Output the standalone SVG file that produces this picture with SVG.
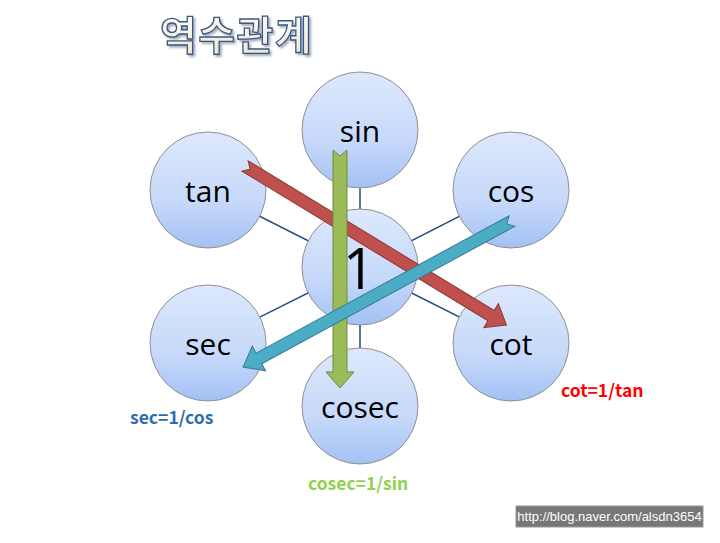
<svg xmlns="http://www.w3.org/2000/svg" width="720" height="543" viewBox="0 0 720 543">
<defs>
<linearGradient id="cg" x1="0" y1="0" x2="0" y2="1">
<stop offset="0" stop-color="#dde8fb"/>
<stop offset="0.6" stop-color="#c6d9fa"/>
<stop offset="1" stop-color="#a3c1f5"/>
</linearGradient>
<linearGradient id="tg" x1="0" y1="0" x2="0" y2="1">
<stop offset="0" stop-color="#ffffff"/>
<stop offset="1" stop-color="#e8e6c8"/>
</linearGradient>
<filter id="sh" x="-10%" y="-10%" width="130%" height="140%">
<feGaussianBlur in="SourceAlpha" stdDeviation="1.2"/>
<feOffset dx="1.5" dy="2" result="o"/>
<feFlood flood-color="#5a6f8f" flood-opacity="0.55"/>
<feComposite in2="o" operator="in"/>
<feMerge><feMergeNode/><feMergeNode in="SourceGraphic"/></feMerge>
</filter>
</defs>
<style>
.node circle{fill:url(#cg);stroke:#8f8f8f;stroke-width:1}
.node text{font-family:"Open Sans","Noto Sans",sans-serif;font-size:30px;fill:#000;text-anchor:middle}
.link{stroke:#1f497d;stroke-width:1.5}
.lbl{font-family:"Noto Sans CJK KR","Open Sans",sans-serif;font-weight:bold;font-size:17.5px}
</style>
<rect width="720" height="543" fill="#ffffff"/>
<text x="160" y="50" filter="url(#sh)" style="font-family:'Noto Sans CJK KR',sans-serif;font-weight:bold;font-size:40px;fill:url(#tg);stroke:#3b5783;stroke-width:1.3;letter-spacing:1.5px">역수관계</text>
<g id="connectors">
<line class="link" x1="360" y1="267" x2="360" y2="130"/>
<line class="link" x1="360" y1="267" x2="208" y2="190"/>
<line class="link" x1="360" y1="267" x2="511" y2="190"/>
<line class="link" x1="360" y1="267" x2="208" y2="343"/>
<line class="link" x1="360" y1="267" x2="511" y2="343"/>
<line class="link" x1="360" y1="267" x2="360" y2="406"/>
</g>
<g id="node-sin" class="node"><circle cx="360" cy="130" r="58"/><text x="360" y="142">sin</text></g>
<g id="node-tan" class="node"><circle cx="208" cy="190" r="58"/><text x="208" y="202">tan</text></g>
<g id="node-cos" class="node"><circle cx="511" cy="190" r="58"/><text x="511" y="202">cos</text></g>
<g id="node-one" class="node"><circle cx="360" cy="267" r="58"/><text x="359" y="289" style="font-size:56px">1</text></g>
<g id="node-sec" class="node"><circle cx="208" cy="343" r="58"/><text x="208" y="355">sec</text></g>
<g id="node-cot" class="node"><circle cx="511" cy="343" r="58"/><text x="511" y="355">cot</text></g>
<g id="node-cosec" class="node"><circle cx="360" cy="406" r="58"/><text x="360" y="418">cosec</text></g>
<g id="arrows">
<polygon transform="translate(245,166) rotate(31.3)" points="0,-6 288,-6 288,-14 306,0 288,14 288,6 0,6 6,0" fill="#c0504d" stroke="#8c3836" stroke-width="1"/>
<polygon transform="translate(340,150) rotate(90)" points="0,-7 222,-7 222,-14 238,0 222,14 222,7 0,7 6,0" fill="#9bbb59" stroke="#71893f" stroke-width="1"/>
<polygon transform="translate(512,221) rotate(151.5)" points="0,-6 288,-6 288,-14 306,0 288,14 288,6 0,6 6,0" fill="#4bacc6" stroke="#357d91" stroke-width="1"/>
</g>
<text class="lbl" x="130" y="424" fill="#2e6cb0">sec=1/cos</text>
<text class="lbl" x="561" y="397" fill="#ff0000">cot=1/tan</text>
<text class="lbl" x="308" y="490" fill="#92d050">cosec=1/sin</text>
<rect x="516" y="506" width="187" height="21" fill="#777777" stroke="#9a9a9a" stroke-width="1"/>
<text x="609.5" y="521" style="font-family:'Liberation Sans',sans-serif;font-size:13px;fill:#ffffff;text-anchor:middle">http://blog.naver.com/alsdn3654</text>
</svg>
